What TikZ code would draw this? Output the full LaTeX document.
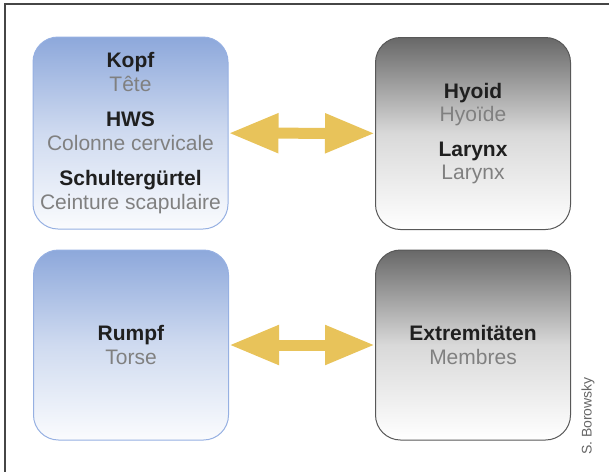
\documentclass[tikz,border=0pt]{standalone}
\usepackage{fontspec}
\setmainfont{Liberation Sans}
\usepackage{tikz}
\usetikzlibrary{arrows.meta}
\definecolor{boxblue}{RGB}{141,168,219}
\definecolor{blueline}{RGB}{150,176,226}
\definecolor{boxgray}{RGB}{104,104,104}
\definecolor{grayline}{RGB}{88,88,88}
\definecolor{softgray}{RGB}{128,128,128}
\definecolor{gold}{RGB}{232,195,90}
\definecolor{framegray}{RGB}{70,70,70}

\tikzset{
  bluebox/.style={draw=blueline, line width=1pt, rounded corners=25pt, top color=boxblue, bottom color=white!96!boxblue, middle color=boxblue!42, minimum width=195pt, minimum height=192pt, align=center, font=\fontsize{21}{23.5}\selectfont, text=black!88},
  graybox/.style={bluebox, draw=grayline, top color=boxgray, bottom color=white, middle color=black!15},
  fatarrow/.style={<->, >={Triangle[length=50pt,width=37pt]}, line width=11pt, color=gold}
}
\newcommand{\fr}[1]{\textcolor{softgray}{#1}}

\begin{document}
\begin{tikzpicture}[x=1pt,y=-1pt]
\useasboundingbox (0,0) rectangle (609,472);
\draw [line width=1.5pt, color=framegray] (609,4) -- (5,4) -- (5,472);
\node[bluebox] (kopf) at (130.5,133) {\textbf{Kopf}\\\fr{Tête}\\[12pt]\textbf{HWS}\\\fr{Colonne cervicale}\\[12pt]\textbf{Schultergürtel}\\\fr{Ceinture scapulaire}};
\node[graybox] (hyoid) at (473,133.5) {\textbf{Hyoid}\\\fr{Hyoïde}\\[11pt]\textbf{Larynx}\\\fr{Larynx}};
\node[bluebox, minimum height=190pt] (rumpf) at (131,345) {\textbf{Rumpf}\\\fr{Torse}};
\node[graybox, minimum height=190pt] (extrem) at (473,345) {\textbf{Extremitäten}\\\fr{Membres}};
\node[rotate=90, font=\fontsize{14}{16}\selectfont, text=black!60] (credit) at (588,416) {S. Borowsky};
\draw [fatarrow] (kopf) -- (hyoid);
\draw [fatarrow] (rumpf) -- (extrem);
\end{tikzpicture}
\end{document}
